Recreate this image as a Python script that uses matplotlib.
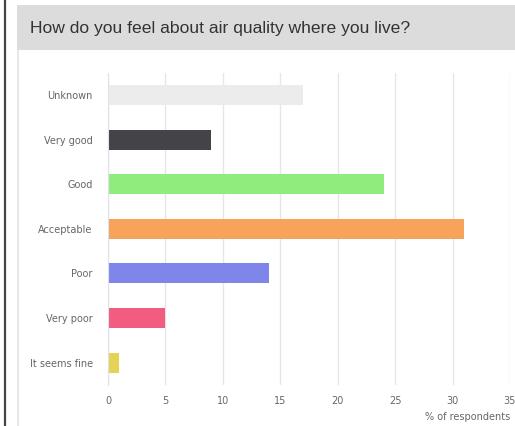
import matplotlib.pyplot as plt
from matplotlib.patches import Rectangle
from matplotlib.lines import Line2D

# data
categories = ['Unknown', 'Very good', 'Good', 'Acceptable', 'Poor', 'Very poor', 'It seems fine']
values = [17, 9, 24, 31, 14, 5, 1]
colors = ['#ececec', '#434348', '#90ed7d', '#f7a35c', '#8085e9', '#f15c80', '#e4d354']
x_ticks = [0, 5, 10, 15, 20, 25, 30, 35]

W, H = 515, 426
fig = plt.figure(figsize=(W / 100, H / 100), dpi=100)

# frame bits: dark left border, grey header, light card border
fig.add_artist(Line2D([4.5 / W, 4.5 / W], [0, 1], color='#444444', lw=1.6))
fig.add_artist(Rectangle((17 / W, 1 - 50 / H), 1, 45 / H, color='#dcdcdc', lw=0))
fig.add_artist(Line2D([18 / W, 18 / W], [0, 1 - 50 / H], color='#e4e4e4', lw=1.2))
fig.text(30 / W, 1 - 28 / H, 'How do you feel about air quality where you live?',
         fontsize=12.6, color='#333333', family='Liberation Sans', va='center', ha='left')

ax = fig.add_axes([108 / W, 1 - 385 / H, 402 / W, 312.4 / H])
y = range(len(categories))
ax.barh(y, values, height=0.45, color=colors)
ax.set_ylim(6.5, -0.5)
ax.set_xlim(0, 35)
ax.set_yticks(list(y))
ax.set_yticklabels(categories)
ax.set_xticks(x_ticks)
ax.tick_params(axis='both', length=0, labelsize=7, labelcolor='#666666')
ax.tick_params(axis='y', pad=11)
ax.tick_params(axis='x', pad=8)
ax.grid(axis='x', color='#e6e6e6', lw=1)
ax.set_axisbelow(True)
for s in ['top', 'right', 'bottom']:
    ax.spines[s].set_visible(False)
ax.spines['left'].set_color('#dde3ee')
ax.set_xlabel('% of respondents', fontsize=7, color='#666666', loc='right', labelpad=4)

fig.savefig('out.png', dpi=100)
